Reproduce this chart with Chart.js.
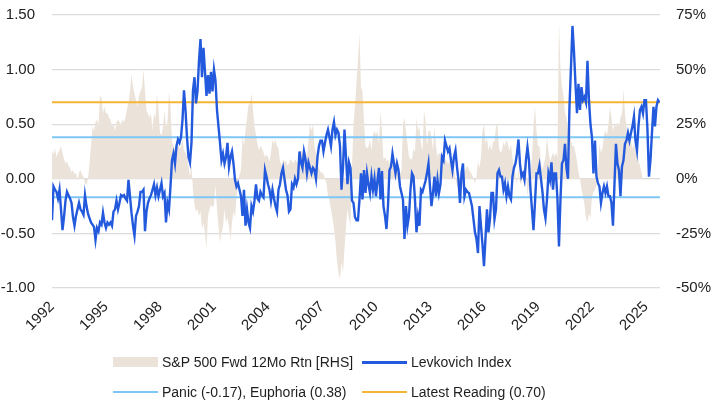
<!DOCTYPE html>
<html><head><meta charset="utf-8">
<script src="https://cdn.jsdelivr.net/npm/chart.js@4"></script>
<style>
html,body{margin:0;padding:0;background:#fff;}
#wrap{position:relative;width:727px;height:404px;overflow:hidden;}
canvas{position:absolute;left:0;top:-11px;}
.lg{position:absolute;font-family:"Liberation Sans",Arial,sans-serif;font-size:14px;color:#1e1e1e;white-space:nowrap;line-height:18px;}
.sw{position:absolute;}
</style></head><body>
<div id="wrap"><canvas id="c" width="727" height="415"></canvas><div id="legend"></div></div>
<script>
// ---- DATA (monthly, starting Jan 1992) ----
const startYear = 1992;
const levkovichIndex = [
 -0.38,-0.07,-0.10,-0.12,-0.18,-0.10,-0.28,-0.47,-0.35,-0.20,-0.12,-0.15,
 -0.18,-0.22,-0.35,-0.43,-0.34,-0.28,-0.22,-0.28,-0.30,-0.33,-0.15,-0.25,
 -0.32,-0.36,-0.40,-0.42,-0.44,-0.56,-0.45,-0.48,-0.40,-0.42,-0.31,-0.40,
 -0.45,-0.40,-0.42,-0.40,-0.43,-0.30,-0.28,-0.20,-0.28,-0.22,-0.15,-0.16,
 -0.15,-0.18,-0.20,-0.01,-0.16,-0.31,-0.43,-0.52,-0.34,-0.30,-0.25,-0.12,
 -0.12,-0.10,-0.48,-0.30,-0.22,-0.18,-0.15,-0.10,-0.05,-0.15,-0.08,-0.16,
 -0.10,-0.04,-0.16,-0.13,-0.40,-0.22,-0.28,-0.07,0.17,0.23,0.14,0.30,
 0.36,0.33,0.38,0.54,0.81,0.63,0.38,0.20,0.15,0.33,0.81,0.93,
 0.69,0.80,1.08,1.28,0.93,1.20,0.98,0.76,0.95,0.78,0.98,0.80,
 1.00,0.90,0.63,0.48,0.33,0.17,0.23,0.14,0.20,0.33,0.11,0.20,
 0.25,0.14,-0.01,-0.07,-0.04,-0.10,-0.16,-0.34,-0.10,-0.43,-0.28,-0.40,
 -0.45,-0.25,-0.30,-0.20,-0.05,-0.18,-0.20,-0.12,-0.15,-0.17,0.08,0.02,
 -0.05,-0.10,-0.20,-0.10,-0.18,-0.25,-0.30,-0.10,-0.05,0.05,0.10,0.00,
 -0.10,-0.15,-0.30,-0.28,-0.05,-0.08,0.00,-0.05,0.00,0.25,0.15,0.10,
 0.25,0.18,0.05,0.15,0.10,0.05,0.10,0.08,0.00,0.20,0.30,0.35,
 0.35,0.25,0.33,0.40,0.45,0.38,0.30,0.45,0.52,0.40,0.45,0.42,
 0.30,-0.10,0.10,0.45,0.20,-0.05,0.15,0.10,-0.20,-0.22,-0.35,-0.38,
 -0.38,-0.19,0.05,-0.19,0.08,-0.13,0.05,-0.05,-0.13,0.02,-0.10,0.00,
 -0.16,-0.01,0.10,-0.19,0.07,-0.25,-0.34,-0.46,-0.25,0.08,0.11,0.23,
 0.14,0.05,0.14,0.08,-0.07,-0.13,-0.19,-0.55,-0.25,-0.43,-0.34,-0.10,
 0.05,0.02,-0.19,-0.49,-0.34,-0.43,-0.10,-0.12,-0.07,-0.02,0.05,0.14,
 -0.07,-0.25,-0.13,0.02,-0.16,-0.01,-0.13,-0.05,0.20,0.17,0.35,0.30,
 0.25,0.28,0.17,0.08,0.20,0.26,0.11,-0.01,-0.22,0.05,0.14,-0.16,
 -0.10,-0.12,-0.13,-0.19,-0.25,-0.37,-0.49,-0.55,-0.68,-0.25,-0.43,-0.60,
 -0.80,-0.55,-0.28,-0.49,-0.37,-0.13,-0.13,-0.37,-0.28,0.05,0.08,0.02,
 0.02,-0.10,-0.04,-0.16,-0.07,-0.16,-0.19,0.02,0.10,0.14,0.23,0.36,
 0.14,0.02,0.05,-0.01,0.17,0.29,0.17,-0.10,-0.28,-0.47,-0.22,0.05,
 0.05,0.12,0.00,-0.12,-0.28,-0.36,-0.19,0.05,-0.01,0.15,-0.10,0.05,
 0.05,-0.19,-0.62,-0.19,0.14,0.17,0.32,0.10,0.00,0.66,1.02,1.40,
 1.17,0.87,0.60,0.87,0.63,0.84,0.72,0.75,0.70,1.08,0.72,0.50,
 0.38,0.05,0.35,0.02,-0.04,-0.07,-0.22,-0.13,-0.07,-0.13,-0.07,-0.16,
 -0.16,-0.22,-0.43,-0.05,0.32,0.14,0.08,-0.16,0.11,0.17,0.32,0.35,
 0.42,0.35,0.42,0.48,0.57,0.35,0.26,0.48,0.63,0.66,0.60,0.72,
 0.72,0.45,0.02,0.17,0.42,0.66,0.48,0.66,0.72,0.70
];
const spxFwd12mRtn = [
 13,11,14,10,12,13,15,12,9,7,8,6,
 5,3,4,2,3,-1,3,4,2,1,-2,-3,
 0,7,15,24,22,26,27,25,38,37,30,33,
 30,30,28,27,24,25,22,26,27,26,25,27,
 26,28,32,35,40,48,42,39,36,33,38,40,
 42,50,40,31,30,28,30,22,30,28,39,32,
 21,20,24,31,24,26,40,33,17,15,14,16,
 16,14,15,18,13,12,10,6,1,7,-6,-12,
 -15,-14,-17,-15,-23,-20,-25,-32,-17,-14,-12,-13,
 -12,-3,-14,-22,-29,-25,-22,-14,-20,-18,-22,-28,
 -20,-15,-18,-8,-3,2,4,20,15,22,28,34,
 34,39,32,24,20,16,13,15,14,12,10,11,
 10,8,12,18,16,18,15,14,8,6,9,8,
 8,6,7,9,8,7,9,8,7,12,13,12,
 12,13,10,18,25,22,25,15,12,6,5,3,
 3,2,0,-2,-8,-10,-14,-18,-23,-29,-38,-43,
 -46,-38,-43,-32,-22,-14,-18,-22,5,25,33,44,
 54,67,42,40,27,15,14,15,18,13,20,22,
 20,22,16,31,22,9,10,8,9,7,6,10,
 10,7,5,3,2,4,25,28,22,16,10,9,
 9,14,12,28,22,24,16,13,31,27,15,22,
 22,19,13,24,15,10,12,11,12,9,9,8,
 7,8,6,3,4,0,-3,-5,-2,1,2,3,
 5,6,4,3,2,0,-2,1,8,5,10,22,
 25,16,19,13,16,13,17,17,24,25,14,12,
 13,17,15,18,16,13,16,10,4,2,-3,5,
 -2,-2,1,2,4,-8,-3,1,10,24,33,22,
 15,15,7,4,7,10,19,13,8,10,12,10,
 12,10,72,50,42,38,30,28,22,28,18,15,
 15,12,8,3,0,-5,-8,-12,-18,-20,-16,-18,
 -8,-6,-5,-3,5,16,12,14,20,22,20,25,
 33,28,22,25,24,26,24,28,30,41,30,24,
 19,16,18,14,16,13,10,8,6,3,-1
];
const panicLevel = -0.17;
const euphoriaLevel = 0.38;
const latestReading = 0.70;
const xRange = [1992, 2025.78];
const xTickYears = [1992,1995,1998,2001,2004,2007,2010,2013,2016,2019,2022,2025];
const leftTicks = [-1.00,-0.50,0.00,0.50,1.00,1.50];
const rightTicks = [-50,-25,0,25,50,75];
const seriesLabels = ['S&P 500 Fwd 12Mo Rtn [RHS]','Levkovich Index','Panic (-0.17), Euphoria (0.38)','Latest Reading (0.70)'];

// ---- COLOURS / STYLE ----
const C_BEIGE = '#ebe3d9', C_BLUE = '#2259dd', C_LBLUE = '#7dc6f6', C_ORANGE = '#f5b534', C_GRID = '#dcdcdc', C_TEXT = '#222';
const FONT = '"Liberation Sans", Arial, sans-serif';

const toPts = arr => arr.map((v,i)=>({x: startYear + i/12, y: v}));
const hLine = v => [{x:xRange[0], y:v},{x:xRange[1], y:v}];

const ctx = document.getElementById('c').getContext('2d');
new Chart(ctx, {
  type: 'line',
  data: { datasets: [
    { label: seriesLabels[0], data: toPts(spxFwd12mRtn), yAxisID: 'yR', borderWidth: 0, borderColor: C_BEIGE,
      backgroundColor: C_BEIGE, fill: 'origin', pointRadius: 0, tension: 0, order: 5 },
    { label: 'Panic', data: hLine(panicLevel), yAxisID: 'y', borderColor: C_LBLUE, borderWidth: 2, pointRadius: 0, order: 3 },
    { label: 'Euphoria', data: hLine(euphoriaLevel), yAxisID: 'y', borderColor: C_LBLUE, borderWidth: 2, pointRadius: 0, order: 3 },
    { label: seriesLabels[3], data: hLine(latestReading), yAxisID: 'y', borderColor: C_ORANGE, borderWidth: 2, pointRadius: 0, order: 2 },
    { label: seriesLabels[1], data: toPts(levkovichIndex), yAxisID: 'y', borderColor: C_BLUE, borderWidth: 2.4, pointRadius: 0, tension: 0, order: 0 }
  ]},
  options: {
    responsive: false, animation: false, devicePixelRatio: 1,
    layout: { padding: { top: 3, left: 0, right: 0, bottom: 0 } },
    plugins: { legend: { display: false }, tooltip: { enabled: false } },
    scales: {
      x: { type: 'linear', min: xRange[0], max: xRange[1],
        grid: { display: false, drawTicks: false }, border: { display: false },
        afterBuildTicks: s => { s.ticks = xTickYears.map(v => ({value: v})); },
        afterFit: s => { s.height = 116; },
        ticks: { autoSkip: false, maxRotation: 45, minRotation: 45, padding: 10, color: C_TEXT,
          font: { family: FONT, size: 15 }, callback: v => String(v) } },
      y: { position: 'left', min: -1, max: 1.5,
        afterBuildTicks: s => { s.ticks = leftTicks.map(v => ({value: v})); },
        afterFit: s => { s.width = 52; },
        grid: { color: C_GRID, lineWidth: 1.3, drawTicks: false }, border: { display: false },
        ticks: { padding: 17, color: C_TEXT, font: { family: FONT, size: 15 }, callback: v => v.toFixed(2) } },
      yR: { position: 'right', min: -50, max: 75,
        afterBuildTicks: s => { s.ticks = rightTicks.map(v => ({value: v})); },
        afterFit: s => { s.width = 67; },
        grid: { display: false, drawTicks: false }, border: { display: false },
        ticks: { padding: 16, color: C_TEXT, font: { family: FONT, size: 15 }, callback: v => v + '%' } }
    }
  }
});

// ---- HTML legend (two aligned rows) ----
const lg = document.getElementById('legend');
const items = [
  { sw: {left:113, top:357, width:45, height:10, background:C_BEIGE}, text: seriesLabels[0], tl:162, tt:353 },
  { sw: {left:362, top:361, width:45, height:2.5, background:C_BLUE}, text: seriesLabels[1], tl:411, tt:353 },
  { sw: {left:113, top:391, width:45, height:2, background:C_LBLUE}, text: seriesLabels[2], tl:162, tt:383 },
  { sw: {left:362, top:391, width:45, height:2, background:C_ORANGE}, text: seriesLabels[3], tl:411, tt:383 }
];
items.forEach(it => {
  const s = document.createElement('div'); s.className = 'sw';
  Object.entries(it.sw).forEach(([k,v]) => s.style[k] = typeof v === 'number' ? v + 'px' : v);
  lg.appendChild(s);
  const t = document.createElement('div'); t.className = 'lg';
  t.style.left = it.tl + 'px'; t.style.top = it.tt + 'px'; t.textContent = it.text;
  lg.appendChild(t);
});
</script>
</body></html>
